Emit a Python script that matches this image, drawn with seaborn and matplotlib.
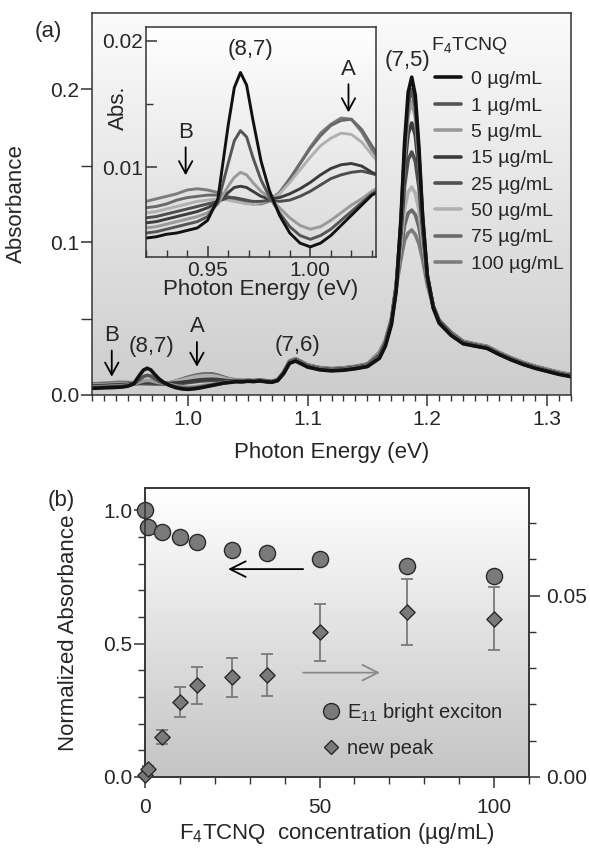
import numpy as np
import pandas as pd
import matplotlib
matplotlib.use("Agg")
import matplotlib.pyplot as plt
import seaborn as sns
from matplotlib.colors import LinearSegmentedColormap
from matplotlib.lines import Line2D
from matplotlib.ticker import MultipleLocator, FixedLocator

# ---------------- data: panel (a) spectra ----------------
energy_eV = [0.920, 0.925, 0.930, 0.935, 0.940, 0.945, 0.950, 0.955, 0.960, 0.963, 0.966, 0.969, 0.972,
             0.976, 0.980, 0.985, 0.990, 0.995, 1.000, 1.005, 1.010, 1.015, 1.020, 1.025, 1.030,
             1.035, 1.040, 1.045, 1.050, 1.055, 1.060, 1.065, 1.070, 1.075, 1.080, 1.085, 1.090, 1.095,
             1.100, 1.110, 1.120, 1.130, 1.140, 1.150,
             1.160, 1.165, 1.170, 1.174, 1.178, 1.181, 1.184, 1.187, 1.190, 1.193, 1.196, 1.200, 1.205, 1.210,
             1.220, 1.230, 1.240, 1.250, 1.260, 1.270, 1.280, 1.290, 1.300, 1.310, 1.320]

abs_0 = [0.0044, 0.0045, 0.0047, 0.0048, 0.0050, 0.0052, 0.0058, 0.0075, 0.0133, 0.0163, 0.0175, 0.0165, 0.0138,
         0.0105, 0.0082, 0.0062, 0.0048, 0.0040, 0.0037, 0.0040, 0.0046, 0.0054, 0.0062, 0.0070, 0.0078,
         0.0082, 0.0087, 0.0086, 0.0090, 0.0088, 0.0092, 0.0087, 0.0083, 0.0094, 0.0140, 0.0208, 0.0222, 0.0203,
         0.0183, 0.0165, 0.0158, 0.0162, 0.0172, 0.0186,
         0.024, 0.032, 0.046, 0.068, 0.115, 0.165, 0.198, 0.208, 0.196, 0.162, 0.118, 0.078, 0.057, 0.047,
         0.039, 0.0335, 0.032, 0.0305, 0.0265, 0.023, 0.020, 0.0175, 0.0155, 0.0135, 0.012]
abs_1 = [0.0048, 0.0049, 0.0051, 0.0053, 0.0055, 0.0057, 0.0061, 0.0072, 0.0103, 0.0121, 0.0129, 0.0124, 0.0108,
         0.0090, 0.0077, 0.0064, 0.0053, 0.0046, 0.0043, 0.0046, 0.0051, 0.0058, 0.0065, 0.0072, 0.0079,
         0.0084, 0.0089, 0.0087, 0.0091, 0.0089, 0.0093, 0.0088, 0.0084, 0.0095, 0.0142, 0.0210, 0.0225, 0.0206,
         0.0186, 0.0168, 0.0161, 0.0165, 0.0175, 0.0190,
         0.025, 0.033, 0.047, 0.069, 0.114, 0.160, 0.191, 0.200, 0.189, 0.158, 0.117, 0.078, 0.057, 0.047,
         0.039, 0.034, 0.0322, 0.0307, 0.0267, 0.0232, 0.0202, 0.0177, 0.0157, 0.0137, 0.0122]
abs_5 = [0.0052, 0.0053, 0.0055, 0.0057, 0.0059, 0.0061, 0.0064, 0.0071, 0.0085, 0.0092, 0.0096, 0.0094, 0.0088,
         0.0081, 0.0076, 0.0068, 0.0060, 0.0054, 0.0051, 0.0053, 0.0058, 0.0064, 0.0070, 0.0075, 0.0081,
         0.0086, 0.0090, 0.0088, 0.0092, 0.0090, 0.0094, 0.0089, 0.0085, 0.0096, 0.0143, 0.0212, 0.0227, 0.0208,
         0.0188, 0.0170, 0.0163, 0.0167, 0.0177, 0.0192,
         0.025, 0.033, 0.047, 0.070, 0.113, 0.155, 0.183, 0.192, 0.182, 0.154, 0.116, 0.078, 0.057, 0.047,
         0.0395, 0.034, 0.0323, 0.0308, 0.0268, 0.0233, 0.0203, 0.0178, 0.0158, 0.0138, 0.0123]
abs_15 = [0.0056, 0.0057, 0.0059, 0.0061, 0.0063, 0.0065, 0.0068, 0.0072, 0.0080, 0.0084, 0.0085, 0.0084, 0.0081,
          0.0077, 0.0075, 0.0076, 0.0079, 0.0083, 0.0088, 0.0094, 0.0099, 0.0102, 0.0103, 0.0101, 0.0096,
          0.0092, 0.0093, 0.0090, 0.0093, 0.0091, 0.0095, 0.0090, 0.0086, 0.0097, 0.0145, 0.0215, 0.0230, 0.0210,
          0.0190, 0.0172, 0.0165, 0.0170, 0.0180, 0.0195,
          0.026, 0.034, 0.048, 0.071, 0.110, 0.148, 0.171, 0.178, 0.170, 0.147, 0.113, 0.078, 0.058, 0.048,
          0.040, 0.0343, 0.0325, 0.031, 0.027, 0.0235, 0.0205, 0.018, 0.016, 0.014, 0.0125]
abs_25 = [0.0060, 0.0061, 0.0063, 0.0065, 0.0067, 0.0069, 0.0071, 0.0073, 0.0076, 0.0076, 0.0075, 0.0074, 0.0073,
          0.0073, 0.0074, 0.0073, 0.0074, 0.0077, 0.0081, 0.0086, 0.0091, 0.0094, 0.0096, 0.0097, 0.0095,
          0.0093, 0.0094, 0.0091, 0.0094, 0.0092, 0.0096, 0.0091, 0.0087, 0.0098, 0.0146, 0.0217, 0.0232, 0.0212,
          0.0192, 0.0174, 0.0167, 0.0172, 0.0182, 0.0197,
          0.026, 0.034, 0.048, 0.071, 0.106, 0.137, 0.154, 0.159, 0.153, 0.136, 0.109, 0.077, 0.058, 0.048,
          0.040, 0.0345, 0.0327, 0.0312, 0.0272, 0.0237, 0.0207, 0.0182, 0.0162, 0.0142, 0.0127]
abs_50 = [0.0064, 0.0065, 0.0067, 0.0069, 0.0071, 0.0073, 0.0074, 0.0075, 0.0074, 0.0073, 0.0072, 0.0071, 0.0071,
          0.0072, 0.0074, 0.0079, 0.0088, 0.0098, 0.0108, 0.0117, 0.0123, 0.0127, 0.0126, 0.0120, 0.0110,
          0.0100, 0.0097, 0.0093, 0.0095, 0.0093, 0.0097, 0.0092, 0.0088, 0.0099, 0.0148, 0.0219, 0.0234, 0.0214,
          0.0194, 0.0176, 0.0169, 0.0174, 0.0184, 0.0199,
          0.027, 0.035, 0.049, 0.071, 0.100, 0.122, 0.133, 0.136, 0.132, 0.121, 0.102, 0.076, 0.058, 0.048,
          0.0405, 0.0348, 0.033, 0.0315, 0.0275, 0.024, 0.021, 0.0185, 0.0165, 0.0145, 0.013]
abs_75 = [0.0068, 0.0069, 0.0071, 0.0074, 0.0076, 0.0077, 0.0078, 0.0078, 0.0076, 0.0074, 0.0073, 0.0072, 0.0071,
          0.0072, 0.0074, 0.0080, 0.0091, 0.0103, 0.0115, 0.0125, 0.0133, 0.0137, 0.0138, 0.0130, 0.0117,
          0.0104, 0.0099, 0.0094, 0.0096, 0.0094, 0.0098, 0.0093, 0.0089, 0.0100, 0.0149, 0.0221, 0.0236, 0.0216,
          0.0196, 0.0178, 0.0171, 0.0176, 0.0186, 0.0201,
          0.027, 0.035, 0.049, 0.071, 0.095, 0.111, 0.119, 0.121, 0.118, 0.110, 0.096, 0.074, 0.058, 0.048,
          0.041, 0.035, 0.0332, 0.0317, 0.0277, 0.0242, 0.0212, 0.0187, 0.0167, 0.0147, 0.0132]
abs_100 = [0.0073, 0.0075, 0.0077, 0.0079, 0.0082, 0.0083, 0.0082, 0.0080, 0.0077, 0.0075, 0.0073, 0.0072, 0.0071,
           0.0071, 0.0073, 0.0079, 0.0090, 0.0103, 0.0116, 0.0127, 0.0134, 0.0139, 0.0138, 0.0128, 0.0114,
           0.0103, 0.0099, 0.0095, 0.0097, 0.0095, 0.0099, 0.0094, 0.0090, 0.0101, 0.0150, 0.0223, 0.0238, 0.0218,
           0.0198, 0.0180, 0.0173, 0.0178, 0.0188, 0.0203,
           0.028, 0.036, 0.050, 0.070, 0.089, 0.101, 0.106, 0.108, 0.105, 0.099, 0.089, 0.072, 0.058, 0.049,
           0.041, 0.0352, 0.0334, 0.0319, 0.0279, 0.0244, 0.0214, 0.0189, 0.0169, 0.0149, 0.0134]

conc_labels = ["0 µg/mL", "1 µg/mL", "5 µg/mL", "15 µg/mL", "25 µg/mL", "50 µg/mL", "75 µg/mL", "100 µg/mL"]
series_values = [abs_0, abs_1, abs_5, abs_15, abs_25, abs_50, abs_75, abs_100]
line_colors = ["#111111", "#555555", "#9a9a9a", "#3c3c3c", "#4e4e4e", "#b0b0b0", "#6a6a6a", "#7c7c7c"]

# ---------------- data: panel (b) ----------------
conc_ugml = [0, 1, 5, 10, 15, 25, 35, 50, 75, 100]
e11_norm = [1.0, 0.937, 0.919, 0.900, 0.881, 0.850, 0.840, 0.816, 0.791, 0.752]
newpeak_abs = [0.0005, 0.0023, 0.0110, 0.0207, 0.0253, 0.0275, 0.0281, 0.0399, 0.0456, 0.0436]
newpeak_err = [0.0, 0.0008, 0.0020, 0.0041, 0.0051, 0.0054, 0.0057, 0.0079, 0.0091, 0.0087]

# ---------------- styling ----------------
sns.set_theme(style="ticks")
plt.rcParams["font.family"] = ["Liberation Sans", "DejaVu Sans"]
plt.rcParams["mathtext.fontset"] = "custom"
plt.rcParams["mathtext.rm"] = "Liberation Sans"
plt.rcParams["mathtext.it"] = "Liberation Sans"
plt.rcParams["mathtext.default"] = "regular"
FL = 16      # axis labels
FT = 15      # tick labels
FG = 14      # legend text
FA = 16      # annotations
SP = "#333333"

frames = []
for lab, vals in zip(conc_labels, series_values):
    frames.append(pd.DataFrame({"E": energy_eV, "A": vals, "conc": lab}))
spec = pd.concat(frames, ignore_index=True)


def gradient(ax, top, bottom):
    g = np.linspace(0, 1, 256).reshape(-1, 1)
    cmap = LinearSegmentedColormap.from_list("g", [top, bottom])
    ax.imshow(g, extent=[0, 1, 0, 1], transform=ax.transAxes, aspect="auto",
              cmap=cmap, zorder=-10, origin="upper", interpolation="bilinear")


def arrow_label(ax, text, x, ytext, ytip, fs=FA):
    ax.annotate(text, xy=(x, ytip), xytext=(x, ytext), ha="center", va="center", fontsize=fs,
                arrowprops=dict(arrowstyle="->,head_length=0.55,head_width=0.3", color="black",
                                lw=1.3, shrinkA=1, shrinkB=0, mutation_scale=16))


fig = plt.figure(figsize=(5.9, 8.48), dpi=100)

# ---------------- panel (a) ----------------
ax = fig.add_axes([92 / 590, 1 - 395 / 848, 479 / 590, 382 / 848])
gradient(ax, "#fbfbfb", "#cdcdcd")
for lab, col in reversed(list(zip(conc_labels, line_colors))):
    sns.lineplot(data=spec[spec["conc"] == lab], x="E", y="A", color=col, lw=2.6,
                 ax=ax, legend=False, estimator=None)
ax.set_xlim(0.92, 1.32)
ax.set_ylim(0, 0.25)
ax.xaxis.set_major_locator(FixedLocator([1.0, 1.1, 1.2, 1.3]))
ax.xaxis.set_minor_locator(MultipleLocator(0.01))
ax.yaxis.set_major_locator(FixedLocator([0.0, 0.1, 0.2]))
ax.yaxis.set_minor_locator(FixedLocator([0.05, 0.15]))
ax.set_xticklabels(["1.0", "1.1", "1.2", "1.3"])
ax.set_yticklabels(["0.0", "0.1", "0.2"])
ax.tick_params(axis="both", which="major", direction="out", length=8, width=1.1, labelsize=FT, color=SP)
ax.tick_params(axis="both", which="minor", direction="out", length=4.5, width=1.0, color=SP)
ax.tick_params(axis="x", which="major", pad=3)
ax.tick_params(axis="y", which="major", pad=1)
ax.tick_params(axis="y", which="minor", length=8)
for s in ax.spines.values():
    s.set_color(SP)
    s.set_linewidth(1.1)
ax.set_xlabel("Photon Energy (eV)", fontsize=FL)
ax.set_ylabel("Absorbance", fontsize=FL)
ax.xaxis.set_label_coords(0.5, -0.122)
ax.yaxis.set_label_coords(-0.136, 0.5)

ax.text(1.1836, 0.219, "(7,5)", ha="center", va="center", fontsize=FA)
ax.text(0.9694, 0.0316, "(8,7)", ha="center", va="center", fontsize=FA)
ax.text(1.0913, 0.0327, "(7,6)", ha="center", va="center", fontsize=FA)
arrow_label(ax, "B", 0.9365, 0.039, 0.012)
arrow_label(ax, "A", 1.0076, 0.0446, 0.0185)

handles = [Line2D([0], [0], color=c, lw=2.6) for c in line_colors]
ax.legend(handles, conc_labels, loc="upper left",
          bbox_to_anchor=(0.716, 0.849), frameon=False, fontsize=FG,
          handlelength=1.35, handletextpad=0.5, labelspacing=0.45, borderpad=0,
          borderaxespad=0)
ax.text(0.707, 0.887, "F$_4$TCNQ", transform=ax.transAxes, ha="left", va="bottom", fontsize=FG)

# ---------------- inset ----------------
axi = fig.add_axes([146 / 590, 1 - 257 / 848, 230 / 590, 230 / 848])
gradient(axi, "#ffffff", "#dadada")
for lab, col in reversed(list(zip(conc_labels, line_colors))):
    sns.lineplot(data=spec[spec["conc"] == lab], x="E", y="A", color=col, lw=2.1,
                 ax=axi, legend=False, estimator=None)
axi.set_xlim(0.92, 1.032)
axi.set_ylim(0.0029, 0.0211)
axi.xaxis.set_major_locator(FixedLocator([0.95, 1.00]))
axi.xaxis.set_minor_locator(MultipleLocator(0.01))
axi.yaxis.set_major_locator(FixedLocator([0.01, 0.02]))
axi.yaxis.set_minor_locator(FixedLocator([0.015]))
axi.set_xticklabels(["0.95", "1.00"])
axi.set_yticklabels(["0.01", "0.02"])
axi.tick_params(axis="both", which="major", direction="in", length=8, width=1.1, labelsize=FT, color=SP)
axi.tick_params(axis="both", which="minor", direction="in", length=5, width=1.0, color=SP)
axi.tick_params(axis="x", which="major", pad=3)
axi.tick_params(axis="y", which="major", pad=2)
for s in axi.spines.values():
    s.set_color(SP)
    s.set_linewidth(1.1)
axi.set_xlabel("Photon Energy (eV)", fontsize=FL, labelpad=-1)
axi.set_ylabel("")
axi.text(0.9709, 0.0193, "(8,7)", ha="center", va="center", fontsize=FA)
arrow_label(axi, "A", 1.0186, 0.01777, 0.01435)
arrow_label(axi, "B", 0.9393, 0.01278, 0.00937)
fig.text(118 / 590, 1 - 108 / 848, "Abs.", rotation=90, ha="center", va="center", fontsize=FL)

# ---------------- panel (b) ----------------
axb = fig.add_axes([145 / 590, 1 - 777 / 848, 384 / 590, 289 / 848])
gradient(axb, "#ffffff", "#c4c4c4")
axr = axb.twinx()

axr.errorbar(conc_ugml, newpeak_abs, yerr=newpeak_err, fmt="none", ecolor="#7a7a7a",
             elinewidth=1.3, capsize=4, capthick=1.3, zorder=2, clip_on=False)
sns.scatterplot(x=conc_ugml, y=newpeak_abs, ax=axr, marker="D", s=60, color="#7a7a7a",
                edgecolor="#2a2a2a", linewidth=1.0, zorder=3, clip_on=False, legend=False)
sns.scatterplot(x=conc_ugml, y=e11_norm, ax=axb, marker="o", s=135, color="#7a7a7a",
                edgecolor="#2a2a2a", linewidth=1.0, zorder=3, clip_on=False, legend=False)

axb.set_xlim(0, 110)
axb.set_ylim(0, 1.083)
axr.set_ylim(0, 0.0797)
axb.xaxis.set_major_locator(FixedLocator([0, 50, 100]))
axb.xaxis.set_minor_locator(MultipleLocator(10))
axb.yaxis.set_major_locator(FixedLocator([0.0, 0.5, 1.0]))
axb.yaxis.set_minor_locator(MultipleLocator(0.1))
axb.set_xticklabels(["0", "50", "100"])
axb.set_yticklabels(["0.0", "0.5", "1.0"])
axr.yaxis.set_major_locator(FixedLocator([0.0, 0.05]))
axr.yaxis.set_minor_locator(MultipleLocator(0.01))
axr.set_yticklabels(["0.00", "0.05"])
axb.tick_params(axis="both", which="major", direction="out", length=8, width=1.1, labelsize=FT, color=SP)
axb.tick_params(axis="both", which="minor", direction="out", length=5, width=1.0, color=SP)
axb.tick_params(axis="x", which="major", pad=7)
axb.tick_params(axis="y", which="major", pad=1)
axr.tick_params(axis="y", which="major", direction="out", length=8, width=1.1, labelsize=FT, color=SP, pad=4)
axr.tick_params(axis="y", which="minor", direction="out", length=5, width=1.0, color=SP)
for a in (axb, axr):
    for s in a.spines.values():
        s.set_color(SP)
        s.set_linewidth(1.1)
axb.set_xlabel("F$_4$TCNQ  concentration (µg/mL)", fontsize=FL)
axb.set_ylabel("Normalized Absorbance", fontsize=FL)
axr.set_ylabel("")
axb.xaxis.set_label_coords(0.5, -0.152)
axb.yaxis.set_label_coords(-0.172, 0.5)

axb.annotate("", xy=(23.8, 0.779), xytext=(45.3, 0.779),
             arrowprops=dict(arrowstyle="->,head_length=0.7,head_width=0.35", color="black",
                             lw=1.3, shrinkA=0, shrinkB=0, mutation_scale=16))
axb.annotate("", xy=(67.3, 0.391), xytext=(45.3, 0.391),
             arrowprops=dict(arrowstyle="->,head_length=0.7,head_width=0.35", color="#8a8a8a",
                             lw=1.3, shrinkA=0, shrinkB=0, mutation_scale=16))

leg_b = [Line2D([0], [0], marker="o", ls="none", markersize=11.5, markerfacecolor="#7a7a7a",
                markeredgecolor="#2a2a2a", markeredgewidth=1.0),
         Line2D([0], [0], marker="D", ls="none", markersize=7.5, markerfacecolor="#7a7a7a",
                markeredgecolor="#2a2a2a", markeredgewidth=1.0)]
axr.legend(leg_b, ["E$_{11}$ bright exciton", "new peak"], loc="upper left",
           bbox_to_anchor=(0.46, 0.262), frameon=False, fontsize=FG + 0.5, handlelength=0.9,
           handletextpad=0.35, labelspacing=0.75, borderpad=0, borderaxespad=0)

fig.text(48 / 590, 1 - 32 / 848, "(a)", ha="center", va="center", fontsize=FL)
fig.text(61 / 590, 1 - 500 / 848, "(b)", ha="center", va="center", fontsize=FL)

fig.savefig("out.png", dpi=100)
